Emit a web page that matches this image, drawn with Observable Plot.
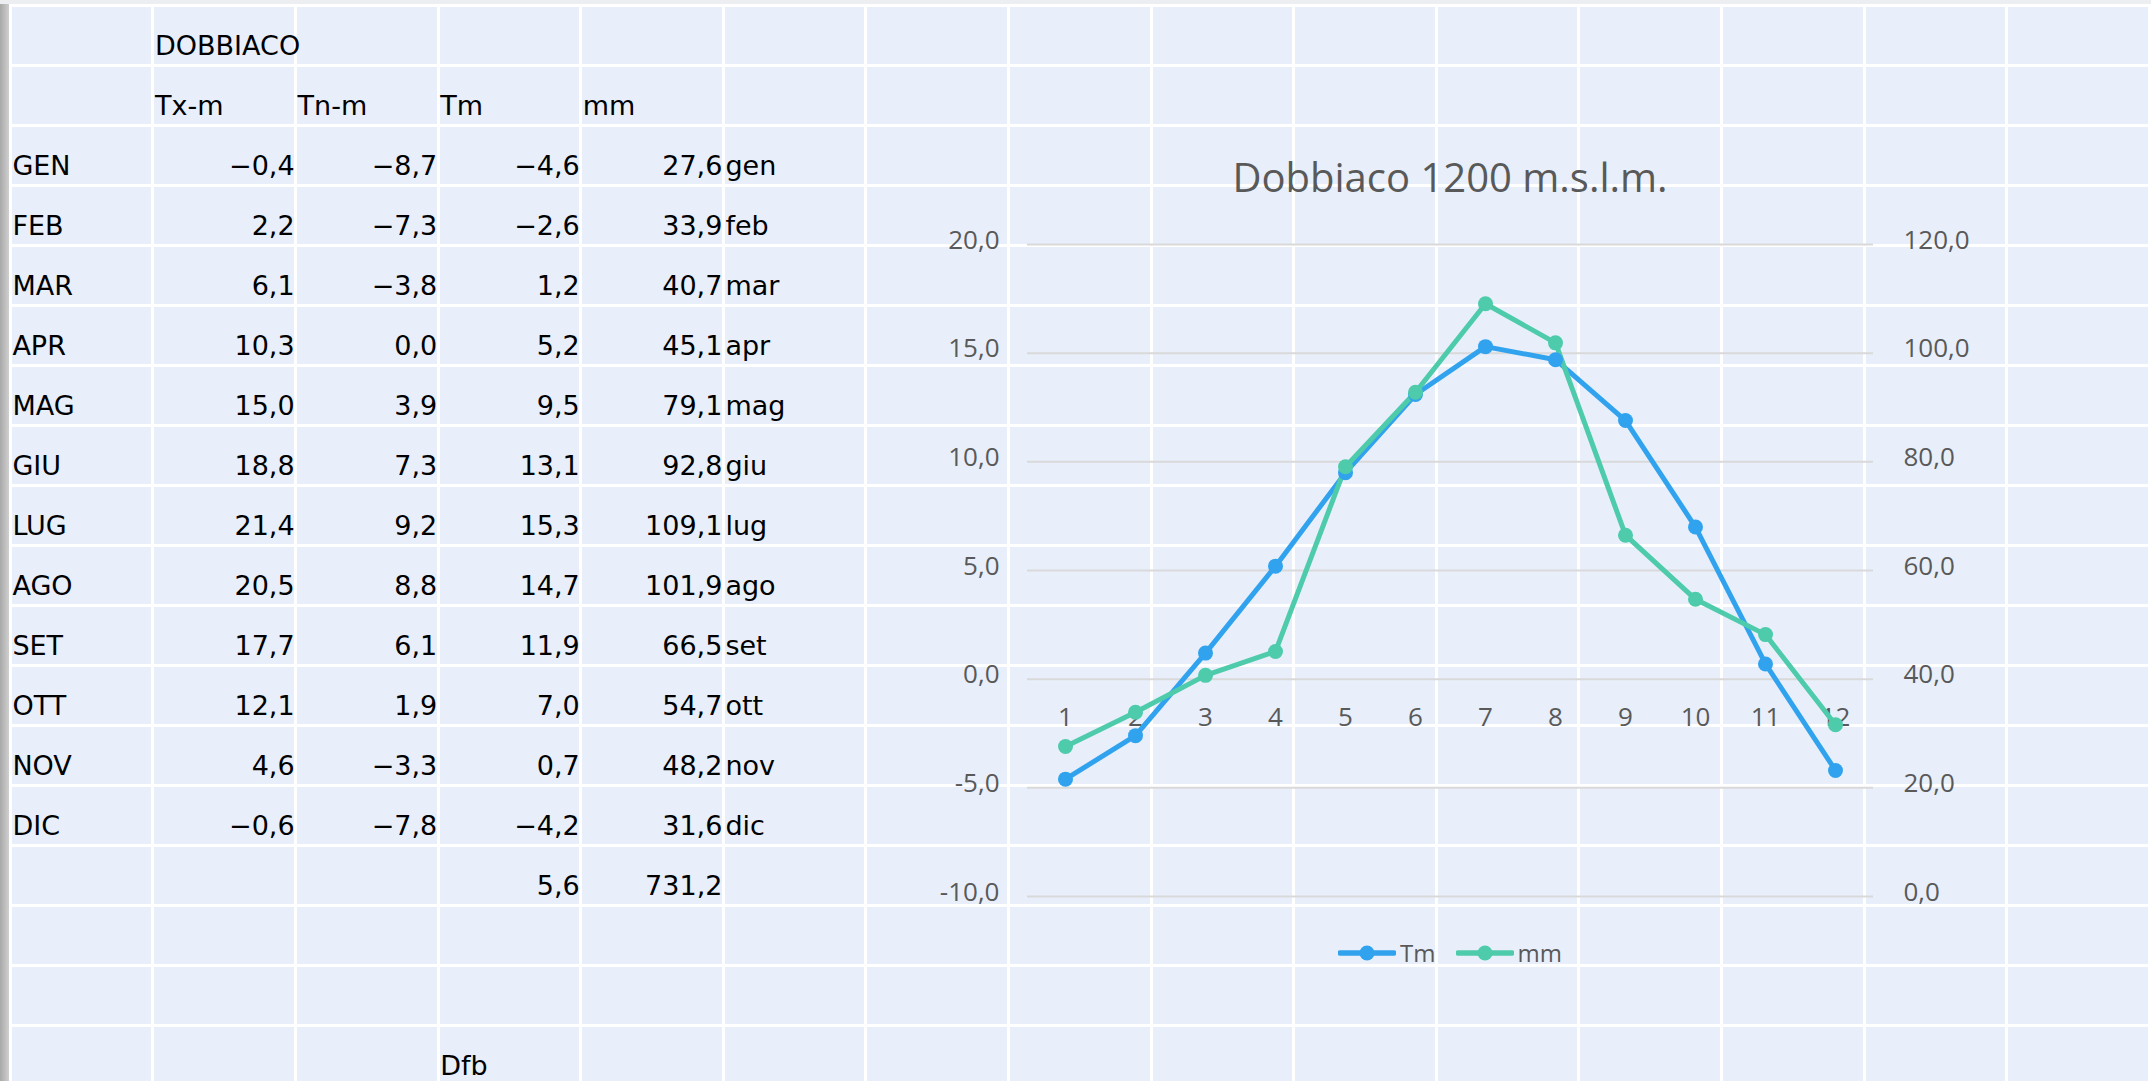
<!DOCTYPE html>
<html>
<head>
<meta charset="utf-8">
<script src="https://cdn.jsdelivr.net/npm/d3@7"></script>
<script src="https://cdn.jsdelivr.net/npm/@observablehq/plot@0.6"></script>
<style>
html,body{margin:0;padding:0;}
body{width:2151px;height:1081px;position:relative;overflow:hidden;background:#ffffff;}
#strip{position:absolute;left:0;top:0;width:9px;height:1081px;background:linear-gradient(to right,#a8a8a8,#cfcfcf);}
#topbar{position:absolute;left:0;top:0;width:2151px;height:4px;background:#eceef2;}
#sheet{position:absolute;left:11.9px;top:6.5px;display:grid;grid-template-columns:repeat(15,139.6px);grid-auto-rows:57px;gap:3px;}
#sheet div{background:#E8EFFA;}
.t{position:absolute;font-family:"DejaVu Sans";font-size:27px;line-height:27px;color:#000;white-space:nowrap;}
#title{position:absolute;left:1027px;width:846px;top:157px;text-align:center;font-family:"Open Sans";font-size:40px;line-height:40px;color:#595959;}
#legend{position:absolute;left:1027px;width:846px;top:938px;height:30px;display:flex;justify-content:center;align-items:center;font-family:"Open Sans";font-size:24px;line-height:30px;color:#595959;}
.item{display:flex;align-items:center;margin:0 10px;}
.item span{margin-left:4px;}
#chart{position:absolute;left:880px;top:100px;}
</style>
</head>
<body>
<div id="strip"></div>
<div id="topbar"></div>
<div id="sheet"></div>
<div id="title"></div>
<div id="legend"></div>
<div id="chart"></div>
<script>
// ---- data ----
const station = "DOBBIACO";
const headers = ["Tx-m", "Tn-m", "Tm", "mm"];
const monthsUpper = ["GEN","FEB","MAR","APR","MAG","GIU","LUG","AGO","SET","OTT","NOV","DIC"];
const monthsLower = ["gen","feb","mar","apr","mag","giu","lug","ago","set","ott","nov","dic"];
const monthNums = [1,2,3,4,5,6,7,8,9,10,11,12];
const txm = [-0.4, 2.2, 6.1, 10.3, 15.0, 18.8, 21.4, 20.5, 17.7, 12.1, 4.6, -0.6];
const tnm = [-8.7, -7.3, -3.8, 0.0, 3.9, 7.3, 9.2, 8.8, 6.1, 1.9, -3.3, -7.8];
const tm  = [-4.6, -2.6, 1.2, 5.2, 9.5, 13.1, 15.3, 14.7, 11.9, 7.0, 0.7, -4.2];
const mm  = [27.6, 33.9, 40.7, 45.1, 79.1, 92.8, 109.1, 101.9, 66.5, 54.7, 48.2, 31.6];
const totals = [5.6, 731.2];
const climate = "Dfb";
const chartTitle = "Dobbiaco 1200 m.s.l.m.";
const leftTicks = [-10, -5, 0, 5, 10, 15, 20];
const rightTicks = [0, 20, 40, 60, 80, 100, 120];
const seriesNames = ["Tm", "mm"];
const seriesColors = ["#31A3EE", "#4DCBAA"];

const fmt = d3.formatLocale({decimal: ",", thousands: ".", grouping: [3], currency: ["", "€"], minus: "-"}).format(".1f");
const fmtTable = d3.formatLocale({decimal: ",", thousands: ".", grouping: [3], currency: ["", "€"], minus: "\u2212"}).format(".1f");

// ---- spreadsheet background ----
const sheet = document.getElementById("sheet");
for (let i = 0; i < 15 * 18; i++) sheet.appendChild(document.createElement("div"));

const X0 = 11.9, PITCH = 142.6, CW = 139.6;
function cellText(col, row, text, align) {
  const d = document.createElement("div");
  d.className = "t";
  const left = X0 + PITCH * col;
  if (align === "left") {
    d.style.left = (left + 0.5) + "px";
  } else {
    d.style.left = left + "px";
    d.style.width = (CW + 0.5) + "px";
    d.style.textAlign = "right";
  }
  d.style.top = (55 + 60 * row - 22.85) + "px";
  d.textContent = text;
  document.body.appendChild(d);
}
cellText(1, 0, station, "left");
headers.forEach((h, i) => cellText(1 + i, 1, h, "left"));
monthsUpper.forEach((m, i) => {
  const r = 2 + i;
  cellText(0, r, m, "left");
  cellText(1, r, fmtTable(txm[i]), "right");
  cellText(2, r, fmtTable(tnm[i]), "right");
  cellText(3, r, fmtTable(tm[i]), "right");
  cellText(4, r, fmtTable(mm[i]), "right");
  cellText(5, r, monthsLower[i], "left");
});
cellText(3, 14, fmtTable(totals[0]), "right");
cellText(4, 14, fmtTable(totals[1]), "right");
cellText(3, 17, climate, "left");

// ---- chart ----
document.getElementById("title").textContent = chartTitle;
const toT = v => v / 4 - 10;   // right axis (mm) -> left axis (°C)
const data = monthNums.map((m, i) => ({m, tm: tm[i], mm: mm[i]}));

const chart = Plot.plot({
  width: 1180,
  height: 900,
  marginLeft: 147,
  marginRight: 187,
  marginTop: 144,
  marginBottom: 104,
  style: {background: "transparent", fontFamily: "Open Sans", fontSize: "26px", color: "#595959", overflow: "visible", maxWidth: "none"},
  x: {type: "point", domain: monthNums, padding: 0.5, axis: null},
  y: {domain: [-10, 20], axis: null},
  marks: [
    Plot.gridY(leftTicks, {stroke: "#D9D9D9", strokeOpacity: 1, strokeWidth: 2}),
    Plot.axisY(leftTicks, {anchor: "left", label: null, tickSize: 0, tickPadding: 28, tickFormat: fmt, dy: -4}),
    Plot.axisY(rightTicks.map(toT), {anchor: "right", label: null, tickSize: 0, tickPadding: 30, tickFormat: d => fmt((d + 10) * 4), dy: -4}),
    Plot.text(monthNums, {x: d => d, y: () => 0, text: d => String(d), dy: 39, fill: "#595959"}),
    Plot.line(data, {x: "m", y: "tm", stroke: seriesColors[0], strokeWidth: 5}),
    Plot.line(data, {x: "m", y: d => toT(d.mm), stroke: seriesColors[1], strokeWidth: 5}),
    Plot.dot(data, {x: "m", y: "tm", r: 7.5, fill: seriesColors[0], stroke: "none"}),
    Plot.dot(data, {x: "m", y: d => toT(d.mm), r: 7.5, fill: seriesColors[1], stroke: "none"})
  ]
});
document.getElementById("chart").appendChild(chart);

// ---- legend ----
const legend = document.getElementById("legend");
seriesNames.forEach((name, i) => {
  const item = document.createElement("div");
  item.className = "item";
  item.innerHTML = `<svg width="58" height="18"><line x1="2" x2="56" y1="9" y2="9" stroke="${seriesColors[i]}" stroke-width="5.5" stroke-linecap="round"/><circle cx="29" cy="9" r="7.5" fill="${seriesColors[i]}"/></svg><span>${name}</span>`;
  legend.appendChild(item);
});
</script>
</body>
</html>
